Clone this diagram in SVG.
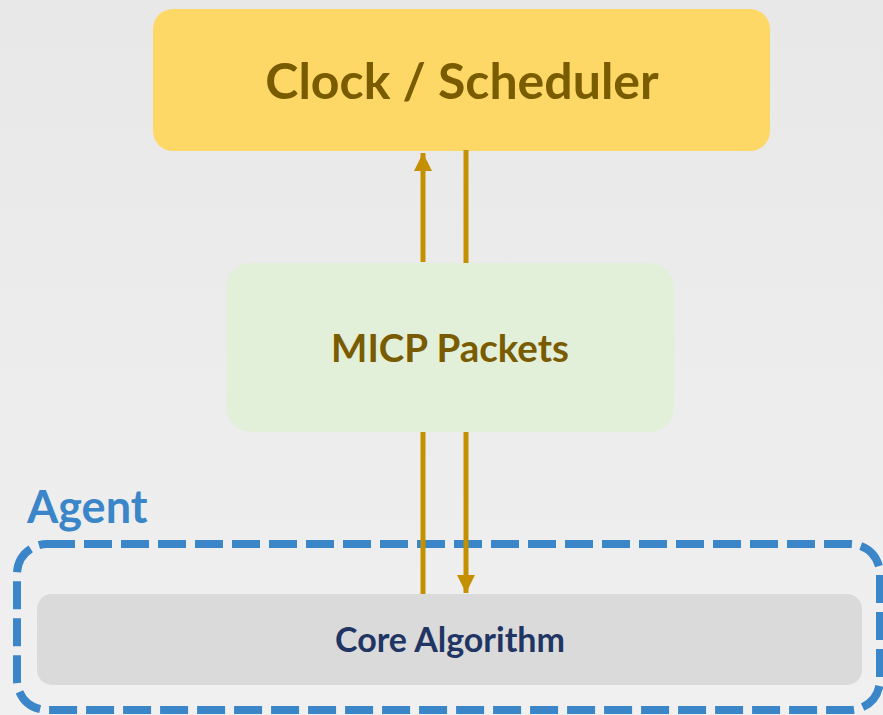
<svg xmlns="http://www.w3.org/2000/svg" width="883" height="715" viewBox="0 0 883 715">
  <style>
    .lbl { font-family: Lato, "Open Sans", "Liberation Sans", sans-serif; font-weight: 700; text-anchor: middle; }
    .flow { stroke: #c49000; stroke-width: 5; fill: none; }
  </style>
  <defs>
    <linearGradient id="bg" x1="0" y1="0" x2="0" y2="1">
      <stop offset="0" stop-color="#e8e8e8"/>
      <stop offset="1" stop-color="#f0f0f0"/>
    </linearGradient>
    <marker id="head" viewBox="0 0 10 10" refX="10" refY="5" markerWidth="3.6" markerHeight="3.6" markerUnits="strokeWidth" orient="auto">
      <path d="M0,0 L10,5 L0,10 Z" fill="#c49000"/>
    </marker>
  </defs>

  <rect width="883" height="715" fill="url(#bg)"/>

  <g id="agent">
    <rect x="17" y="544" width="863" height="166" rx="30" fill="none" stroke="#3a86c8" stroke-width="8" stroke-dasharray="28 9"/>
    <text x="27" y="523" font-family="Lato, 'Open Sans', 'Liberation Sans', sans-serif" font-weight="700" font-size="45" fill="#3a86c8">Agent</text>
  </g>

  <g id="clock">
    <rect x="153" y="9" width="617" height="142" rx="20" fill="#fdd866"/>
    <text class="lbl" x="462" y="99" font-size="50" fill="#7a5c00">Clock / Scheduler</text>
  </g>

  <g id="micp">
    <rect x="226" y="263" width="448" height="169" rx="25" fill="#e2efd9"/>
    <text class="lbl" x="450" y="362" font-size="38.5" fill="#7a5c00">MICP Packets</text>
  </g>

  <g id="core">
    <rect x="37" y="594" width="825" height="91" rx="15" fill="#dadada"/>
    <text class="lbl" x="450" y="652" font-size="34" fill="#1f3564">Core Algorithm</text>
  </g>

  <g id="connectors">
    <line class="flow" x1="423" y1="262" x2="423" y2="153" marker-end="url(#head)"/>
    <line class="flow" x1="466" y1="150" x2="466" y2="263"/>
    <line class="flow" x1="423" y1="432" x2="423" y2="594"/>
    <line class="flow" x1="466" y1="432" x2="466" y2="593" marker-end="url(#head)"/>
  </g>
</svg>
